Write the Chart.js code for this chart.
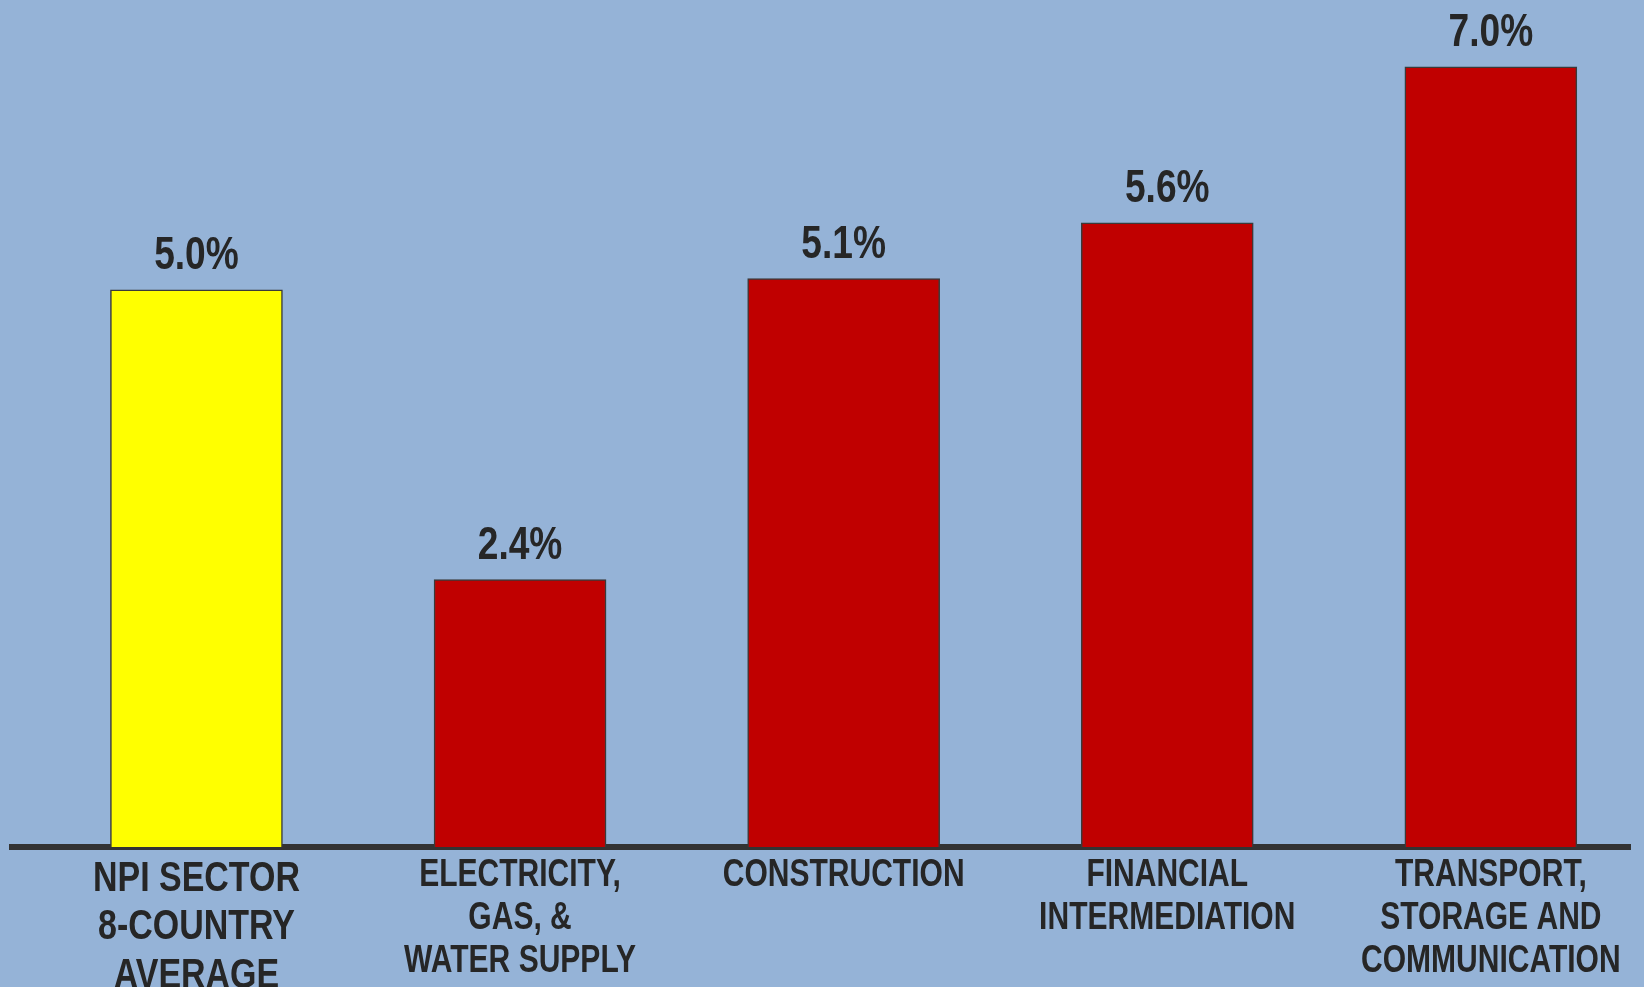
<!DOCTYPE html>
<html>
<head>
<meta charset="utf-8">
<script src="https://cdn.jsdelivr.net/npm/chart.js@4/dist/chart.umd.min.js"></script>
<style>
  html, body { margin: 0; padding: 0; background: #95B3D7; }
  #wrap { width: 1644px; height: 987px; position: relative; }
</style>
</head>
<body>
<div id="wrap"><canvas id="growthChart"></canvas></div>
<script>
// sectors, left to right
const categories = [
    ['NPI SECTOR', '8-COUNTRY', 'AVERAGE'],
    ['ELECTRICITY,', 'GAS, &', 'WATER SUPPLY'],
    ['CONSTRUCTION'],
    ['FINANCIAL', 'INTERMEDIATION'],
    ['TRANSPORT,', 'STORAGE AND', 'COMMUNICATION']
];
const growth = [5.0, 2.4, 5.1, 5.6, 7.0];
const barColors = ['#FFFF00', '#C00000', '#C00000', '#C00000', '#C00000'];

const FONT = '"Liberation Sans", Arial, sans-serif';
const TEXT = '#262626';
const NARROW = 0.79;   // original uses a condensed bold face
const WIDE = 2;        // construction bar is drawn a bit wider in the original

function points(keep) {
    return growth.map((v, i) => ({ x: i, y: keep(i) ? v : null }));
}

function narrowText(ctx, text, x, y) {
    ctx.save();
    ctx.translate(x, y);
    ctx.scale(NARROW, 1);
    ctx.fillText(text, 0, 0);
    ctx.restore();
}

// value labels above bars + category labels under the axis
const labelsPlugin = {
    id: 'labelsPlugin',
    afterDraw(chart) {
        const ctx = chart.ctx;
        const xs = chart.scales.x;
        ctx.save();
        ctx.fillStyle = TEXT;
        ctx.textAlign = 'center';
        ctx.textBaseline = 'alphabetic';

        ctx.font = 'bold 47px ' + FONT;
        chart.data.datasets.forEach((ds, di) => {
            chart.getDatasetMeta(di).data.forEach((bar, i) => {
                if (ds.data[i].y == null) return;
                narrowText(ctx, ds.data[i].y.toFixed(1) + '%', bar.x, bar.y - 21);
            });
        });

        categories.forEach((lines, i) => {
            const size = i === 0 ? 43 : 38;
            const step = size * 1.13;
            ctx.font = 'bold ' + size + 'px ' + FONT;
            const x = xs.getPixelForValue(i);
            let y = chart.chartArea.bottom + size * 1.02;
            lines.forEach(line => {
                narrowText(ctx, line, x, y);
                y += step;
            });
        });
        ctx.restore();
    }
};

new Chart(document.getElementById('growthChart'), {
    type: 'bar',
    data: {
        datasets: [
            {
                data: points(i => i !== WIDE),
                backgroundColor: barColors,
                borderColor: '#3a3a3a',
                borderWidth: 1.5,
                barThickness: 172,
                grouped: false
            },
            {
                data: points(i => i === WIDE),
                backgroundColor: barColors,
                borderColor: '#3a3a3a',
                borderWidth: 1.5,
                barThickness: 192,
                grouped: false
            }
        ]
    },
    options: {
        responsive: true,
        maintainAspectRatio: false,
        animation: false,
        devicePixelRatio: 1,
        layout: { padding: { left: 12, right: 14, top: 0, bottom: 0 } },
        plugins: { legend: { display: false }, tooltip: { enabled: false } },
        scales: {
            x: {
                type: 'linear',
                offset: false,
                min: -0.57,
                max: 4.43,
                z: 1,
                grid: { display: false, drawTicks: false },
                border: { display: true, color: '#333333', width: 6 },
                afterBuildTicks: scale => {
                    scale.ticks = categories.map((c, i) => ({ value: i }));
                },
                afterFit: scale => { scale.height = 140; },
                ticks: { display: false }
            },
            y: {
                display: false,
                min: 0,
                max: 7.6
            }
        }
    },
    plugins: [labelsPlugin]
});
</script>
</body>
</html>
